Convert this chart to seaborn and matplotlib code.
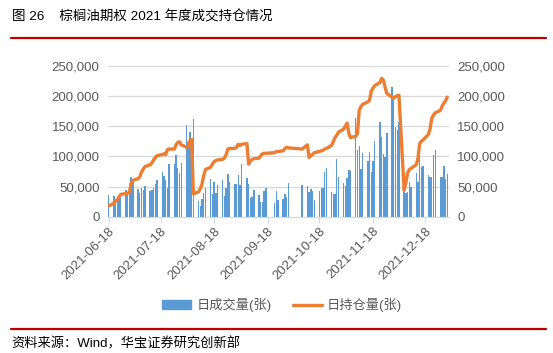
import numpy as np
import pandas as pd
import matplotlib
matplotlib.use("Agg")
import matplotlib.pyplot as plt
from matplotlib.ticker import FuncFormatter
from matplotlib.patches import Patch
from matplotlib.lines import Line2D
import seaborn as sns

# 交易日（剔除中秋、国庆假期）
holidays = ["2021-09-20", "2021-09-21", "2021-10-01", "2021-10-04",
            "2021-10-05", "2021-10-06", "2021-10-07"]
dates = pd.bdate_range("2021-06-18", "2021-12-31")
dates = dates[~dates.isin(pd.to_datetime(holidays))]

# 日成交量(张)，单位：千张
volume_k = [
    36, 34, 21, 33, 32, 33, 45, 41, 51,
    65, 63, 46, 39, 48, 44, 51, 42, 44, 48, 54, 61, 74, 67, 60, 47, 87,
    87, 102, 81, 73, 89,
    152, 124, 141, 127, 162, 26, 18, 30, 40, 48, 63, 37, 57, 40, 52,
    61, 34, 48, 71, 57, 55, 54,
    69, 52, 87, 64, 54, 31, 33, 44, 36, 24, 24, 42, 47, 22, 42, 28,
    29, 37, 33, 56,
    52, 51, 41, 46, 42, 28, 42, 48, 47, 74, 81, 41, 37, 37, 95, 66,
    56, 51, 64, 77, 75, 163, 110, 117, 79, 105, 93, 107, 74, 92, 125,
    157, 132, 104, 99, 139, 215, 193,
    149, 143, 157, 44, 40, 41, 58, 50, 72, 58, 124, 83, 84,
    69, 65, 65, 102, 110, 66, 66, 84, 63, 71,
]

# 日持仓量(张)，单位：千张
oi_k = [
    18, 22, 26, 28, 33, 37, 38.5, 39, 40,
    56, 60, 63, 66, 74, 79, 83, 86, 89, 94, 98, 101, 103, 104, 103, 111, 112,
    112, 119, 123, 124, 119,
    115, 117, 126, 128, 38, 41, 46, 54, 68, 78, 82, 87, 91, 93, 94,
    95, 97, 103, 112, 113, 113, 115,
    120, 118, 120, 121, 87, 92, 95, 96, 97, 101, 104, 105, 105, 106, 108, 108,
    109, 113, 115, 114,
    112, 119, 98, 101, 103, 106, 108, 109, 110, 112, 113, 118, 124, 131, 135, 140,
    145, 150, 155, 138, 131, 133, 138, 176, 182, 186, 190, 193, 208, 213, 217,
    222, 229, 226, 214, 204, 198, 196,
    199, 200, 201, 44, 56, 72, 78, 80, 86, 96, 121, 125, 127,
    136, 145, 163, 168, 172, 176, 183, 188, 192, 198,
]

tick_dates = ["2021-06-18", "2021-07-18", "2021-08-18", "2021-09-18",
              "2021-10-18", "2021-11-18", "2021-12-18"]

df = pd.DataFrame({"date": dates,
                   "volume": np.array(volume_k) * 1000,
                   "oi": np.array(oi_k) * 1000})

sns.set_style("white")
plt.rcParams["font.family"] = ["Liberation Sans", "Noto Sans CJK SC"]

fig = plt.figure(figsize=(5.53, 3.53), dpi=100)
ax = fig.add_axes([0.195, 0.386, 0.617, 0.428])
ax2 = ax.twinx()

blue = "#5B9BD5"
orange = "#ED7D31"
grey = "#595959"

ax.bar(df["date"], df["volume"], width=0.8, color=blue, linewidth=0, zorder=2)
sns.lineplot(data=df, x="date", y="oi", ax=ax2, color=orange, linewidth=2.4,
             legend=False, zorder=3)

for a in (ax, ax2):
    a.set_ylim(0, 250000)
    a.set_yticks(range(0, 250001, 50000))
    a.yaxis.set_major_formatter(FuncFormatter(lambda v, p: f"{int(v):,}"))
    a.tick_params(axis="y", length=0, labelsize=9.5, colors=grey, pad=6)
    a.set_ylabel("")
    a.set_xlabel("")
    for s in a.spines.values():
        s.set_visible(False)
ax.set_axisbelow(True)
ax.grid(axis="y", color="#D9D9D9", linewidth=0.9, zorder=0)
ax.spines["bottom"].set_visible(True)
ax.spines["bottom"].set_color("#D9D9D9")

ax.set_xlim(pd.Timestamp("2021-06-18") - pd.Timedelta(days=0.5),
            pd.Timestamp("2021-12-31") + pd.Timedelta(days=1))
xt = pd.to_datetime(tick_dates)
ax.set_xticks(xt)
ax.set_xticklabels(tick_dates, rotation=45, ha="right", rotation_mode="anchor")
ax.tick_params(axis="x", length=4, color="#D9D9D9", labelsize=9.5,
               labelcolor=grey, pad=2, direction="out", bottom=True)

# 图例
handles = [Patch(color=blue, label="日成交量(张)"),
           Line2D([0], [0], color=orange, lw=2.4, label="日持仓量(张)")]
fig.legend(handles=handles, loc="center", bbox_to_anchor=(0.51, 0.136),
           ncol=2, frameon=False, fontsize=9.5, handlelength=2.2,
           handleheight=0.6, columnspacing=1.6, handletextpad=0.4,
           labelcolor=grey)

# 标题与来源
fig.text(0.021, 0.952, "图 26    棕榈油期权 2021 年度成交持仓情况",
         fontsize=9.7, color="black", va="center")
fig.add_artist(Line2D([0.02, 0.987], [0.892, 0.892], color="#C00000", lw=1.6))
fig.add_artist(Line2D([0.02, 0.987], [0.069, 0.069], color="#C00000", lw=1.6))
fig.text(0.021, 0.026, "资料来源：Wind，华宝证券研究创新部",
         fontsize=9.5, color="black", va="center")

fig.savefig("out.png", dpi=100)
